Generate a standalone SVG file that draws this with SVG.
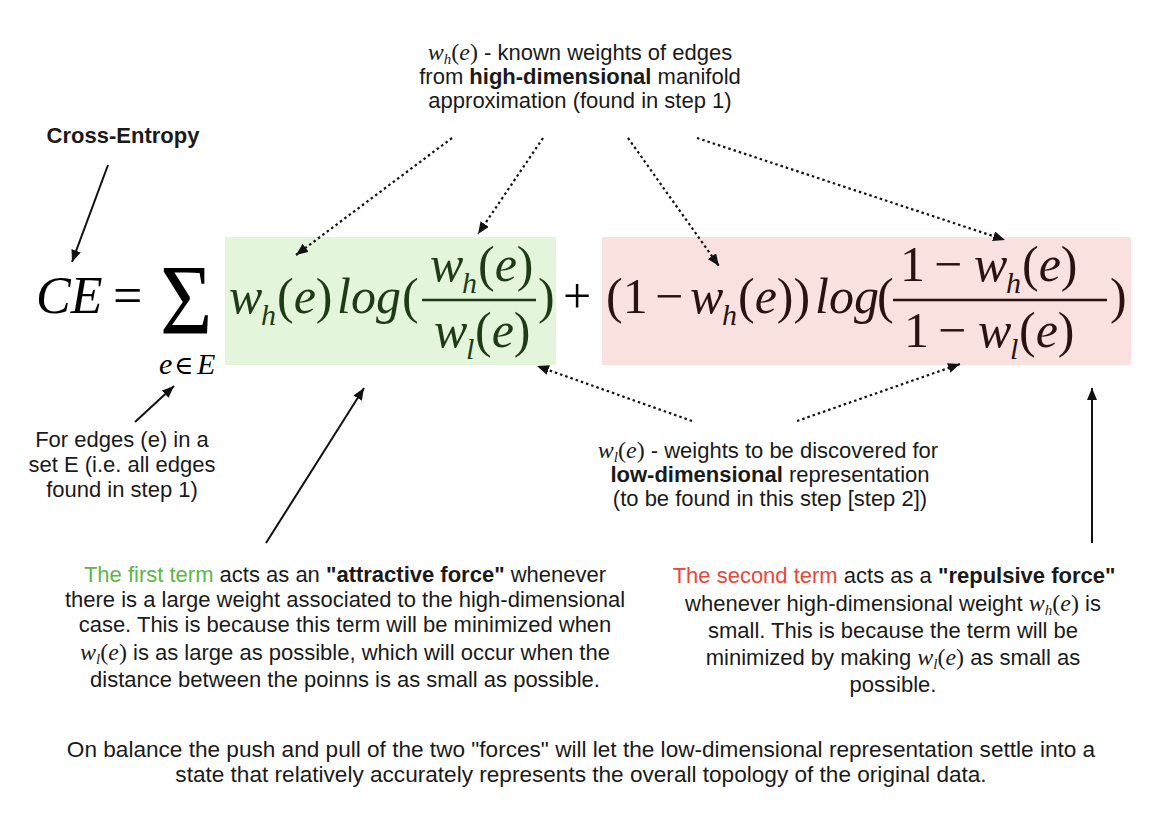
<svg xmlns="http://www.w3.org/2000/svg" width="1162" height="814" viewBox="0 0 1162 814">
<style>
.t{font-family:"Liberation Sans",Arial,sans-serif;font-size:22px;fill:#1a1a1a}
.b{font-weight:bold}
.mi{font-family:"Liberation Serif","Times New Roman",serif;font-style:italic;font-size:24px}
.m{font-family:"Liberation Serif","Times New Roman",serif;font-size:24px}
.sb{font-family:"Liberation Serif","Times New Roman",serif;font-style:italic;font-size:15px}
.f{font-family:"Liberation Serif","Times New Roman",serif;font-size:50px}
.fi{font-family:"Liberation Serif","Times New Roman",serif;font-size:50px;font-style:italic}
.fs{font-family:"Liberation Serif","Times New Roman",serif;font-size:30px;font-style:italic}
.g{fill:#1f3a17}
.r{fill:#2a1212}
.solid{stroke:#111;stroke-width:2;fill:none}
.dot{stroke:#111;stroke-width:2.2;fill:none;stroke-dasharray:2.5 3}
</style>
<defs>
<marker id="ah" viewBox="0 0 12 10" refX="12" refY="5" markerWidth="12" markerHeight="10" markerUnits="userSpaceOnUse" orient="auto">
<path d="M0,0 L12,5 L0,10 z" fill="#111"/>
</marker>
</defs>
<rect width="1162" height="814" fill="#ffffff"/>

<g id="formula">
<text class="fi" x="36" y="313" style="font-size:52px">CE</text>
<text class="f" x="113" y="313" style="font-size:52px">=</text>
<text class="m" transform="translate(160,333) scale(0.9,1)" style="font-size:100px">Σ</text>
<text class="fs" x="159" y="374" style="font-size:30px">e</text>
<text class="m" x="174" y="374" style="font-size:26px;font-family:'DejaVu Serif',serif">∈</text>
<text class="fs" x="197" y="374" style="font-size:30px">E</text>
</g>

<g id="term1">
<rect x="225" y="237" width="331" height="128" fill="#e3f5da"/>
<text class="fi g" x="229" y="313">w</text>
<text class="fs g" x="261" y="325">h</text>
<text class="f g" x="277" y="313">(<tspan class="fi">e</tspan>)</text>
<text class="fi g" x="337" y="313">log</text>
<text class="f g" x="402" y="313">(</text>
<line x1="422" y1="300" x2="536" y2="300" stroke="#1f3a17" stroke-width="2.5"/>
<text class="fi g" x="430" y="281">w</text>
<text class="fs g" x="462" y="293">h</text>
<text class="f g" x="478" y="281">(<tspan class="fi">e</tspan>)</text>
<text class="fi g" x="434" y="347">w</text>
<text class="fs g" x="466" y="359">l</text>
<text class="f g" x="475" y="347">(<tspan class="fi">e</tspan>)</text>
<text class="f g" x="538" y="313">)</text>
</g>

<g id="plus">
<text class="f" x="563" y="313">+</text>
</g>

<g id="term2">
<rect x="602" y="237" width="529" height="128" fill="#f9e1df"/>
<text class="f r" x="606" y="313">(1</text>
<text class="f r" x="655" y="313">−</text>
<text class="fi r" x="690" y="313">w</text>
<text class="fs r" x="722" y="325">h</text>
<text class="f r" x="738" y="313">(<tspan class="fi">e</tspan>))</text>
<text class="fi r" x="815" y="313">log</text>
<text class="f r" x="877" y="313">(</text>
<line x1="893" y1="300" x2="1107" y2="300" stroke="#2a1212" stroke-width="2.5"/>
<text class="f r" x="900" y="281">1</text>
<text class="f r" x="934" y="281">−</text>
<text class="fi r" x="974" y="281">w</text>
<text class="fs r" x="1006" y="293">h</text>
<text class="f r" x="1022" y="281">(<tspan class="fi">e</tspan>)</text>
<text class="f r" x="904" y="347">1</text>
<text class="f r" x="938" y="347">−</text>
<text class="fi r" x="978" y="347">w</text>
<text class="fs r" x="1010" y="359">l</text>
<text class="f r" x="1019" y="347">(<tspan class="fi">e</tspan>)</text>
<text class="f r" x="1110" y="313">)</text>
</g>

<g id="label-top">
<text class="t" x="580" y="60" text-anchor="middle"><tspan class="mi">w</tspan><tspan class="sb" dy="4">h</tspan><tspan class="m" dy="-4">(</tspan><tspan class="mi">e</tspan><tspan class="m">)</tspan> - known weights of edges</text>
<text class="t" x="580" y="84" text-anchor="middle">from <tspan class="b">high-dimensional</tspan> manifold</text>
<text class="t" x="580" y="108" text-anchor="middle">approximation (found in step 1)</text>
</g>

<g id="label-ce">
<text class="t b" x="123" y="143" text-anchor="middle">Cross-Entropy</text>
</g>

<g id="label-edges">
<text class="t" x="122" y="447" text-anchor="middle">For edges (e) in a</text>
<text class="t" x="122" y="472" text-anchor="middle">set E (i.e. all edges</text>
<text class="t" x="122" y="497" text-anchor="middle">found in step 1)</text>
</g>

<g id="label-mid">
<text class="t" x="768" y="458" text-anchor="middle"><tspan class="mi">w</tspan><tspan class="sb" dy="4">l</tspan><tspan class="m" dy="-4">(</tspan><tspan class="mi">e</tspan><tspan class="m">)</tspan> - weights to be discovered for</text>
<text class="t" x="770" y="482" text-anchor="middle"><tspan class="b">low-dimensional</tspan> representation</text>
<text class="t" x="770" y="506" text-anchor="middle">(to be found in this step [step 2])</text>
</g>

<g id="label-first">
<text class="t" x="345" y="582" text-anchor="middle"><tspan fill="#5cb749">The first term</tspan> acts as an <tspan class="b">"attractive force"</tspan> whenever</text>
<text class="t" x="345" y="607" text-anchor="middle">there is a large weight associated to the high-dimensional</text>
<text class="t" x="345" y="632" text-anchor="middle">case. This is because this term will be minimized when</text>
<text class="t" x="345" y="660" text-anchor="middle"><tspan class="mi">w</tspan><tspan class="sb" dy="4">l</tspan><tspan class="m" dy="-4">(</tspan><tspan class="mi">e</tspan><tspan class="m">)</tspan> is as large as possible, which will occur when the</text>
<text class="t" x="345" y="687" text-anchor="middle">distance between the poinns is as small as possible.</text>
</g>

<g id="label-second">
<text class="t" x="894" y="583" text-anchor="middle"><tspan fill="#e8473b">The second term</tspan> acts as a <tspan class="b">"repulsive force"</tspan></text>
<text class="t" x="893" y="611" text-anchor="middle">whenever high-dimensional weight <tspan class="mi">w</tspan><tspan class="sb" dy="4">h</tspan><tspan class="m" dy="-4">(</tspan><tspan class="mi">e</tspan><tspan class="m">)</tspan> is</text>
<text class="t" x="893" y="638" text-anchor="middle">small. This is because the term will be</text>
<text class="t" x="893" y="665" text-anchor="middle">minimized by making <tspan class="mi">w</tspan><tspan class="sb" dy="4">l</tspan><tspan class="m" dy="-4">(</tspan><tspan class="mi">e</tspan><tspan class="m">)</tspan> as small as</text>
<text class="t" x="893" y="692" text-anchor="middle">possible.</text>
</g>

<g id="label-bottom">
<text class="t" x="581" y="757" text-anchor="middle" style="font-size:22.6px">On balance the push and pull of the two "forces" will let the low-dimensional representation settle into a</text>
<text class="t" x="581" y="782" text-anchor="middle" style="font-size:22.6px">state that relatively accurately represents the overall topology of the original data.</text>
</g>

<g id="connectors">
<line class="solid" x1="108" y1="165" x2="72" y2="262" marker-end="url(#ah)"/>
<line class="solid" x1="135" y1="422" x2="174" y2="386" marker-end="url(#ah)"/>
<line class="solid" x1="266" y1="543" x2="364" y2="388" marker-end="url(#ah)"/>
<line class="solid" x1="1092" y1="543" x2="1092" y2="388" marker-end="url(#ah)"/>
<line class="dot" x1="452" y1="138" x2="296" y2="255" marker-end="url(#ah)"/>
<line class="dot" x1="543" y1="138" x2="478" y2="234" marker-end="url(#ah)"/>
<line class="dot" x1="628" y1="138" x2="719" y2="266" marker-end="url(#ah)"/>
<line class="dot" x1="697" y1="138" x2="1005" y2="240" marker-end="url(#ah)"/>
<line class="dot" x1="692" y1="421" x2="537" y2="366" marker-end="url(#ah)"/>
<line class="dot" x1="797" y1="421" x2="960" y2="364" marker-end="url(#ah)"/>
</g>
</svg>
